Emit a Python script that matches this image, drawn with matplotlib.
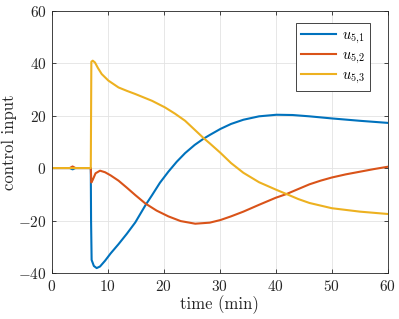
import numpy as np
import matplotlib
matplotlib.use("Agg")
import matplotlib.pyplot as plt

plt.rcParams['font.family'] = ['cmr10', 'DejaVu Serif']
plt.rcParams['mathtext.fontset'] = 'cm'
plt.rcParams['axes.unicode_minus'] = False
plt.rcParams['axes.formatter.use_mathtext'] = True

# values
t_1 = [0, 3.2, 3.7, 4.2, 6.95, 7.0, 7.1, 7.5, 8.0, 8.6, 9.5, 10.5, 11.9, 13.4, 14.9, 16.7, 17.9,
       19.3, 20.8, 22.3, 23.8, 25.5, 27.1, 28.2, 30.1, 32.0, 34.2, 37.0, 40.1, 43.0, 46.0, 50.0, 55.0, 60.0]
u_51 = [0, 0, -0.5, 0, 0, -20, -35, -37.3, -38.1, -37.5, -35.3, -32.5, -29.0, -25.0, -20.7, -14.2, -10.3,
        -5.6, -1.4, 2.4, 5.7, 8.8, 11.2, 12.6, 14.9, 16.8, 18.4, 19.7, 20.3, 20.2, 19.7, 18.9, 18.0, 17.2]

t_2 = [0, 3.2, 3.7, 4.2, 6.95, 7.05, 7.3, 7.8, 8.6, 9.5, 10.5, 11.9, 13.4, 14.9, 16.7, 18.7, 20.8,
       23.0, 25.6, 28.2, 30.1, 32.0, 34.2, 37.0, 40.0, 41.9, 44.0, 46.0, 48.0, 50.0, 52.5, 55.0, 57.5, 60.0]
u_52 = [0, 0, 0.6, 0, 0, -5.5, -4.5, -2.0, -1.0, -1.6, -2.8, -4.8, -7.5, -10.3, -13.5, -16.2, -18.4,
        -20.2, -21.2, -20.8, -19.8, -18.4, -16.6, -14.0, -11.3, -9.9, -8.0, -6.2, -4.8, -3.6, -2.4, -1.4, -0.4, 0.5]

t_3 = [0, 6.95, 7.0, 7.05, 7.3, 7.7, 8.2, 8.9, 10.1, 11.9, 13.4, 14.9, 17.9, 20.2, 22.0, 23.8,
       25.5, 27.1, 28.2, 30.1, 32.0, 34.2, 37.0, 40.1, 41.9, 44.0, 46.0, 50.0, 55.0, 60.0]
u_53 = [0, 0, 20, 40.5, 40.9, 40.2, 38.2, 35.8, 33.3, 30.7, 29.4, 28.2, 25.6, 23.1, 20.7, 18.0,
        14.6, 11.4, 9.4, 5.8, 1.9, -1.8, -5.4, -8.3, -9.9, -11.8, -13.3, -15.3, -16.6, -17.5]

labels = [r'$u_{5{,}1}$', r'$u_{5{,}2}$', r'$u_{5{,}3}$']
colors = ['#0072BD', '#D95319', '#EDB120']

fig = plt.figure(figsize=(3.99, 3.19), dpi=100)
ax = fig.add_axes([0.130, 0.144, 0.842, 0.823])

ax.plot(t_1, u_51, color=colors[0], lw=1.5, label=labels[0])
ax.plot(t_2, u_52, color=colors[1], lw=1.5, label=labels[1])
ax.plot(t_3, u_53, color=colors[2], lw=1.5, label=labels[2])

ax.set_xlim(0, 60)
ax.set_ylim(-40, 60)
ax.set_xticks([0, 10, 20, 30, 40, 50, 60])
ax.set_yticks([-40, -20, 0, 20, 40, 60])
ax.grid(True, color='#e3e3e3', lw=0.6)
ax.set_axisbelow(True)
ax.tick_params(direction='in', top=True, right=True, length=3, width=0.6,
               colors='#262626', labelsize=11, labelcolor='#262626', pad=4)
for s in ax.spines.values():
    s.set_color('#262626')
    s.set_linewidth(0.6)

ax.set_xlabel('time (min)', fontsize=12, color='#262626', labelpad=1)
ax.set_ylabel('control input', fontsize=12, color='#262626', labelpad=0)
ax.yaxis.set_label_coords(-0.105, 0.5)

leg = ax.legend(loc='upper right', bbox_to_anchor=(0.946, 0.952), fontsize=10.5,
                fancybox=False, framealpha=1, edgecolor='#262626', borderpad=0.35,
                handlelength=2.4, handletextpad=0.4, labelspacing=0.2, borderaxespad=0)
leg.get_frame().set_linewidth(0.6)

fig.savefig('out.png', dpi=100)
